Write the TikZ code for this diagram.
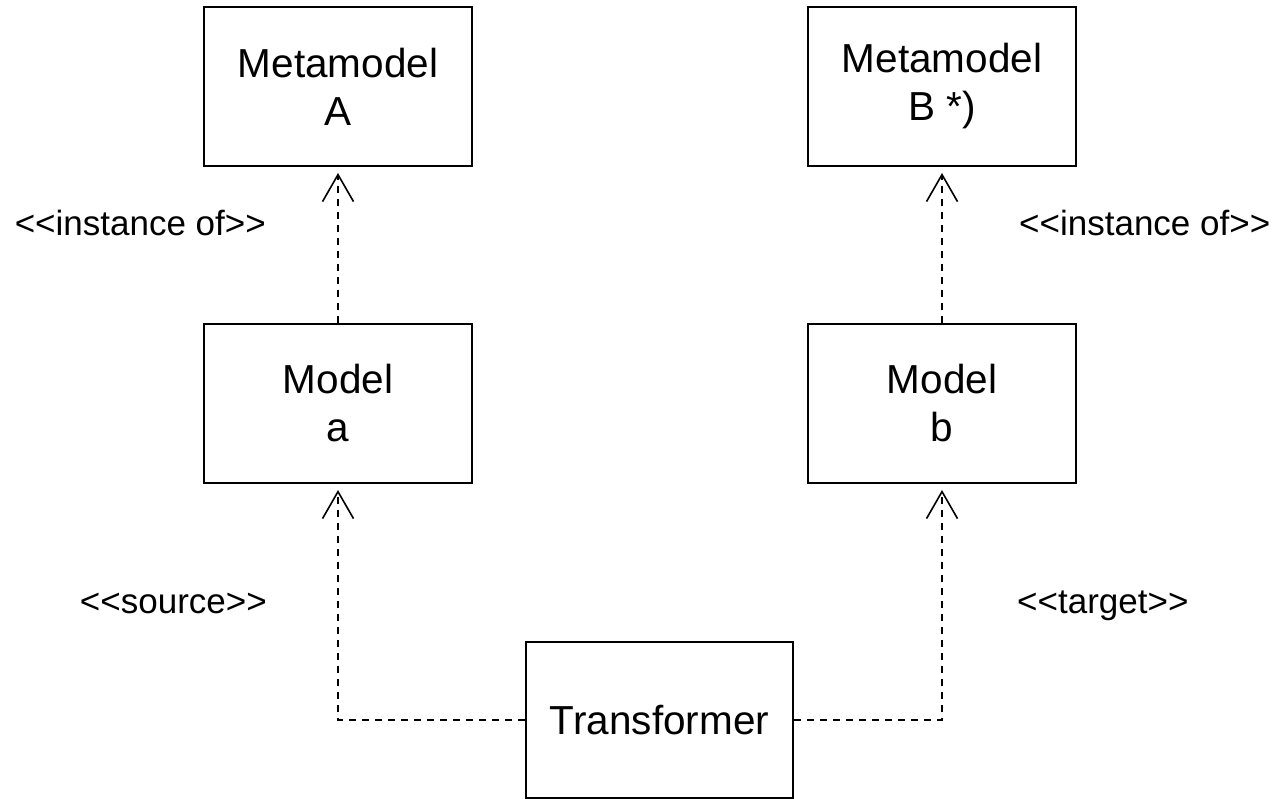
\documentclass[tikz,border=0pt]{standalone}
\usepackage{fontspec}
\setmainfont{Liberation Sans}
\usetikzlibrary{arrows.meta}

\begin{document}
\begin{tikzpicture}[x=1pt,y=-1pt,
  umlbox/.style={draw=black, line width=2pt, fill=white, minimum width=268pt, minimum height=159pt,
    inner sep=0pt, align=center, font=\fontsize{40.5}{48}\selectfont},
  stereo/.style={inner sep=0pt, font=\fontsize{35}{42}\selectfont},
  depend/.style={draw=black, line width=1.6pt, dash pattern=on 7pt off 6pt,
    -{Straight Barb[length=27pt,width=31pt,line width=1.6pt]}, shorten >=6pt},
  plainlink/.style={draw=black, line width=1.6pt, dash pattern=on 7pt off 6pt}]

  % canvas
  \path[use as bounding box] (0,0) rectangle (1274,799);

  % boxes
  \node[umlbox] (mmA) at (338,86.5) {Metamodel\\A};
  \node[umlbox] (mmB) at (942,86.5) {Metamodel\\B *)};
  \node[umlbox] (ma)  at (338,403.5) {Model\\a};
  \node[umlbox] (mb)  at (942,403.5) {Model\\b};
  \node[umlbox, minimum width=267pt, minimum height=156pt] (tr) at (659.5,720) {Transformer};

  % stereotype labels
  \node[stereo, anchor=base east] (lblA) at (266,236) {<{}<instance of>{}>};
  \node[stereo, anchor=base west] (lblB) at (1019,236) {<{}<instance of>{}>};
  \node[stereo, anchor=base east] (lblS) at (267,613) {<{}<source>{}>};
  \node[stereo, anchor=base west] (lblT) at (1017,613) {<{}<target>{}>};

  % instance-of dependencies
  \draw[depend] (ma.north) -- (mmA.south);
  \draw[depend] (mb.north) -- (mmB.south);

  % transformer source/target dependencies
  \coordinate (bendA) at (ma.south |- tr.west);
  \coordinate (bendB) at (mb.south |- tr.east);
  \draw[depend] (tr.west) -- (bendA) -- (ma.south);
  \draw[depend] (tr.east) -- (bendB) -- (mb.south);
\end{tikzpicture}
\end{document}
